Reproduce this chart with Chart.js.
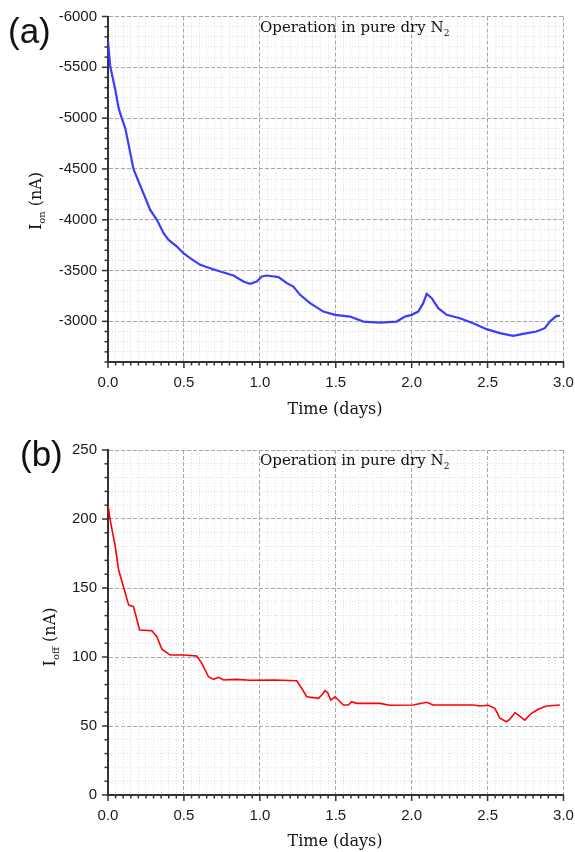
<!DOCTYPE html>
<html><head><meta charset="utf-8">
<script src="https://cdn.jsdelivr.net/npm/chart.js@4.4.1/dist/chart.umd.min.js"></script>
<style>
html,body{margin:0;padding:0;background:#fff;}
#wrap{position:relative;width:575px;height:852px;overflow:hidden;background:#fff;}
canvas{position:absolute;left:0;}
.t{position:absolute;white-space:nowrap;color:#111;font-family:'DejaVu Serif',serif;}
.panel{position:absolute;font-family:'Liberation Sans',Arial,sans-serif;font-size:35px;line-height:35px;color:#111;}
.sub{position:relative;}
</style></head>
<body>
<div id="wrap">
  <canvas id="ca" width="575" height="420" style="top:0"></canvas>
  <canvas id="cb" width="575" height="432" style="top:420px"></canvas>

  <div class="panel" style="left:8px;top:13px;">(a)</div>
  <div class="panel" style="left:20px;top:436px;">(b)</div>

  <div class="t" style="left:260px;top:17px;font-size:15px;line-height:20px;">Operation in pure dry N<span class="sub" style="font-size:9px;top:4px;">2</span></div>
  <div class="t" style="left:260px;top:450px;font-size:15px;line-height:20px;">Operation in pure dry N<span class="sub" style="font-size:9px;top:4px;">2</span></div>

  <div class="t" style="left:335px;top:399px;font-size:16px;line-height:20px;transform:translateX(-50%);">Time (days)</div>
  <div class="t" style="left:335px;top:831px;font-size:16px;line-height:20px;transform:translateX(-50%);">Time (days)</div>

  <div class="t" style="left:37px;top:201px;font-size:16px;line-height:20px;transform:translate(-50%,-50%) rotate(-90deg);">I<span class="sub" style="font-size:10px;top:4px;">on</span> (nA)</div>
  <div class="t" style="left:51px;top:637px;font-size:16px;line-height:20px;transform:translate(-50%,-50%) rotate(-90deg);">I<span class="sub" style="font-size:10px;top:4px;">off</span> (nA)</div>
</div>
<script>
// ---- data ----
const daysOn = [0, 0.015, 0.048, 0.07, 0.092, 0.114, 0.125, 0.168, 0.224, 0.278, 0.322, 0.366, 0.399, 0.454, 0.497, 0.541, 0.607, 0.673, 0.739, 0.826, 0.892, 0.936, 0.98, 1.013, 1.046, 1.123, 1.178, 1.221, 1.265, 1.331, 1.418, 1.495, 1.594, 1.682, 1.791, 1.901, 1.956, 2.0, 2.043, 2.076, 2.099, 2.132, 2.175, 2.23, 2.318, 2.405, 2.493, 2.581, 2.668, 2.734, 2.822, 2.877, 2.91, 2.954, 2.976];
const ionValues = [-5760, -5508, -5279, -5098, -4993, -4900, -4820, -4498, -4294, -4097, -3999, -3868, -3802, -3736, -3671, -3622, -3556, -3523, -3490, -3451, -3392, -3369, -3392, -3441, -3451, -3435, -3376, -3343, -3261, -3179, -3096, -3064, -3047, -2998, -2988, -2998, -3047, -3064, -3096, -3179, -3270, -3228, -3130, -3064, -3031, -2982, -2923, -2884, -2857, -2877, -2900, -2933, -2998, -3054, -3054];

const daysOff = [0, 0.015, 0.048, 0.07, 0.099, 0.136, 0.168, 0.208, 0.289, 0.322, 0.355, 0.41, 0.497, 0.585, 0.618, 0.662, 0.695, 0.728, 0.761, 0.849, 0.936, 1.09, 1.243, 1.276, 1.309, 1.386, 1.408, 1.43, 1.447, 1.467, 1.495, 1.55, 1.583, 1.605, 1.638, 1.791, 1.857, 2.01, 2.099, 2.142, 2.405, 2.449, 2.504, 2.548, 2.581, 2.625, 2.647, 2.68, 2.701, 2.745, 2.789, 2.833, 2.888, 2.976];
const ioffValues = [210, 199, 180, 163, 152, 137.7, 136.5, 119.6, 119, 114.7, 105.6, 101.4, 101.4, 100.7, 95.4, 85.7, 83.8, 85.3, 83.3, 83.8, 83.1, 83.3, 82.8, 77.3, 71.2, 70, 72.5, 75.6, 74.1, 68.8, 71.2, 65.2, 65.2, 67.6, 66.4, 66.4, 65, 65.2, 67.2, 65.2, 65.2, 64.5, 65, 62.8, 55.6, 53.1, 54.9, 59.6, 58, 54.3, 59.2, 62.1, 64.5, 65.2];

// axis settings (tick labels)
const xRange = [0, 3];         const xMajor = 0.5;  const xMinor = 0.05;
const yOnRange = [-6000, -2600]; const yOnMajor = 500; const yOnMinor = 100;
const yOffRange = [0, 250];    const yOffMajor = 50; const yOffMinor = 10;

// ---- helpers ----
const isMult = (v, m) => Math.abs(v / m - Math.round(v / m)) < 1e-6;
const tickFont = {family: "'Liberation Sans', Arial, sans-serif", size: 15};

function gridFor(major) {
  return {
    color: (c) => (c.tick && isMult(c.tick.value, major)) ? '#a8a8a8' : '#dedede',
    lineWidth: 1,
    drawTicks: false
  };
}
function borderFor(major) {
  return {
    display: true, color: '#333', width: 2,
    dash: (c) => !c.tick ? [] : (isMult(c.tick.value, major) ? [4, 2] : [1, 2])
  };
}

const tickMarks = {
  id: 'tickMarks',
  afterDraw(chart) {
    const ctx = chart.ctx;
    const area = chart.chartArea;
    ctx.save();
    ctx.strokeStyle = '#333';
    ctx.lineWidth = 1.5;
    for (const id of ['x', 'y']) {
      const s = chart.scales[id];
      const major = s.options._major;
      s.ticks.forEach(t => {
        const p = s.getPixelForValue(t.value);
        const len = isMult(t.value, major) ? 6 : 3.5;
        ctx.beginPath();
        if (id === 'x') { ctx.moveTo(p, area.bottom); ctx.lineTo(p, area.bottom + len); }
        else { ctx.moveTo(area.left, p); ctx.lineTo(area.left - len, p); }
        ctx.stroke();
      });
    }
    ctx.restore();
  }
};

function makeChart(canvasId, xs, ys, color, width, yRange, yMajor, yMinor, reverse, padTop, xHeight) {
  const pts = xs.map((x, i) => ({x: x, y: ys[i]}));
  return new Chart(document.getElementById(canvasId), {
    type: 'line',
    data: {datasets: [{
      data: pts,
      borderColor: color,
      backgroundColor: color,
      borderWidth: width,
      pointRadius: 0,
      tension: 0,
      fill: false
    }]},
    options: {
      responsive: false,
      animation: false,
      events: [],
      layout: {padding: {top: padTop, right: 11.5, left: 0, bottom: 0}},
      plugins: {legend: {display: false}, tooltip: {enabled: false}},
      scales: {
        x: {
          type: 'linear', min: xRange[0], max: xRange[1], _major: xMajor,
          grid: gridFor(xMajor), border: borderFor(xMajor),
          ticks: {stepSize: xMinor, autoSkip: false, maxRotation: 0, padding: 12, color: '#1a1a1a', font: tickFont,
                  callback: (v) => isMult(v, xMajor) ? v.toFixed(1) : ''},
          afterFit: (s) => { s.height = xHeight; s.paddingLeft = 0; s.paddingRight = 0; }
        },
        y: {
          type: 'linear', min: yRange[0], max: yRange[1], reverse: reverse, _major: yMajor,
          grid: gridFor(yMajor), border: borderFor(yMajor),
          ticks: {stepSize: yMinor, autoSkip: false, padding: 11, color: '#1a1a1a', font: tickFont,
                  callback: (v) => isMult(v, yMajor) ? String(Math.round(v)) : ''},
          afterFit: (s) => { s.width = 108; s.paddingTop = 0; s.paddingBottom = 0; }
        }
      }
    },
    plugins: [tickMarks]
  });
}

makeChart('ca', daysOn, ionValues, '#3c3cff', 2.2, yOnRange, yOnMajor, yOnMinor, true, 16.5, 58);
makeChart('cb', daysOff, ioffValues, '#ff0000', 1.6, yOffRange, yOffMajor, yOffMinor, false, 30, 57);
</script>
</body></html>
